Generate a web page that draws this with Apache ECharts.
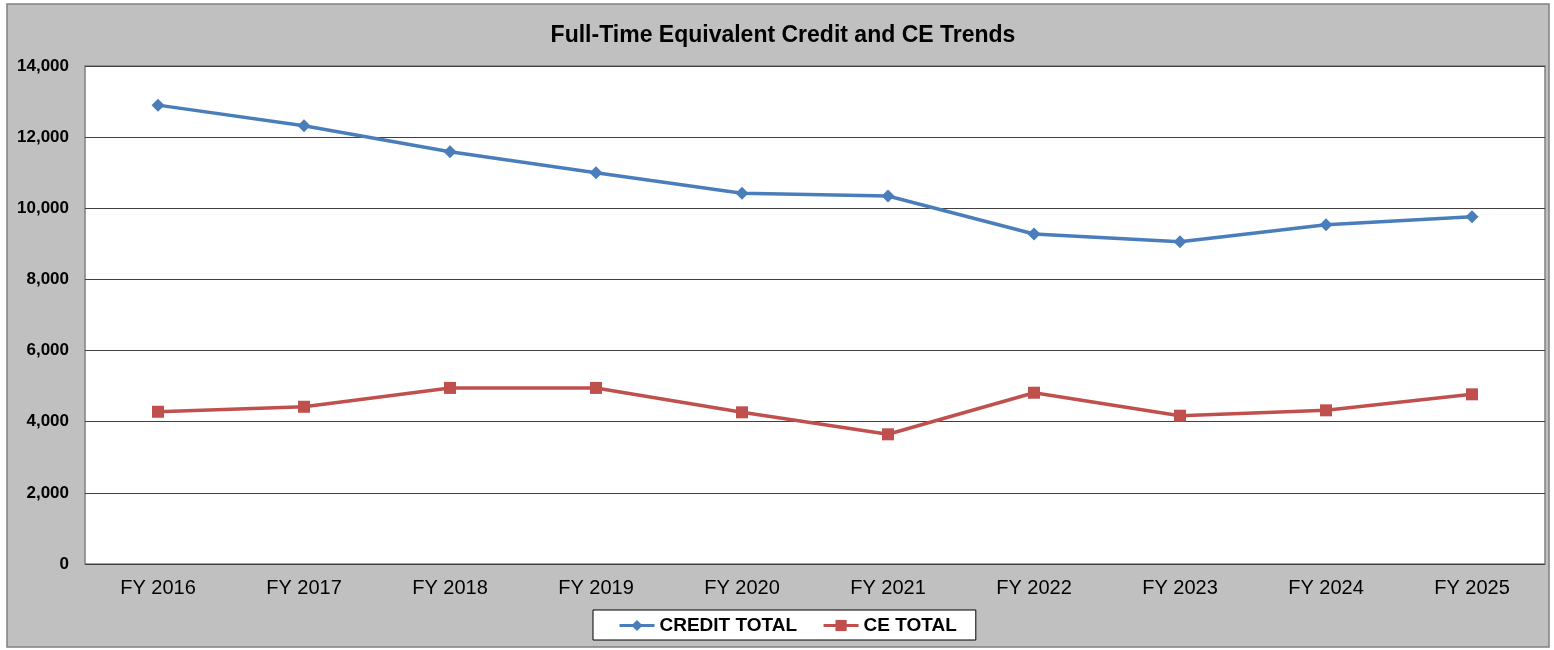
<!DOCTYPE html>
<html>
<head>
<meta charset="utf-8">
<script src="https://cdn.jsdelivr.net/npm/echarts@6/dist/echarts.min.js"></script>
<style>
  html, body { margin: 0; padding: 0; background: #fff; }
  #chart { width: 1554px; height: 650px; }
</style>
</head>
<body>
<div id="chart"></div>
<script>
// chart data
const years = ['FY 2016', 'FY 2017', 'FY 2018', 'FY 2019', 'FY 2020', 'FY 2021', 'FY 2022', 'FY 2023', 'FY 2024', 'FY 2025']
const creditTotal = [12900, 12320, 11590, 11000, 10420, 10345, 9276, 9060, 9538, 9763]
const ceTotal = [4280, 4420, 4950, 4950, 4264, 3646, 4815, 4169, 4320, 4770]

const font = '"Liberation Sans", Arial, sans-serif'

let chart = echarts.init(document.getElementById('chart'))
let option = {
    backgroundColor: '#ffffff',
    animation: false,
    graphic: [{
        type: 'rect',
        z: -10,
        shape: { x: 7, y: 4, width: 1542, height: 643 },
        style: { fill: '#c0c0c0', stroke: '#808080', lineWidth: 1.5 }
    }],
    title: {
        text: 'Full-Time Equivalent Credit and CE Trends',
        left: 778,
        textAlign: 'center',
        top: 19,
        textStyle: { fontFamily: font, fontSize: 23, fontWeight: 'bold', color: '#000' }
    },
    grid: {
        left: 85,
        right: 9,
        top: 66,
        bottom: 86,
        show: true,
        backgroundColor: '#ffffff',
        borderColor: '#808080',
        borderWidth: 1.5
    },
    legend: {
        data: ['CREDIT TOTAL', 'CE TOTAL'],
        left: 593,
        top: 610,
        backgroundColor: '#ffffff',
        borderColor: '#000',
        borderWidth: 1,
        padding: [6, 19, 5, 25],
        itemGap: 25,
        itemWidth: 35,
        itemHeight: 14,
        lineStyle: { width: 3 },
        textStyle: { fontFamily: font, fontSize: 19, fontWeight: 'bold', color: '#000' }
    },
    xAxis: {
        type: 'category',
        data: years,
        boundaryGap: true,
        axisLine: { show: false },
        axisTick: { show: false },
        axisLabel: { fontFamily: font, fontSize: 20, color: '#000', margin: 14 }
    },
    yAxis: {
        type: 'value',
        min: 0,
        max: 14000,
        interval: 2000,
        axisLine: { show: false },
        axisTick: { show: false },
        splitLine: { lineStyle: { color: '#404040', width: 1 } },
        axisLabel: {
            fontFamily: font, fontSize: 17, fontWeight: 'bold', color: '#000', margin: 16,
            formatter: v => v.toLocaleString('en-US')
        }
    },
    series: [{
        name: 'CREDIT TOTAL',
        type: 'line',
        data: creditTotal,
        symbol: 'diamond',
        symbolSize: 13,
        itemStyle: { color: '#4a7ebb' },
        lineStyle: { color: '#4a7ebb', width: 3.5 }
    }, {
        name: 'CE TOTAL',
        type: 'line',
        data: ceTotal,
        symbol: 'rect',
        symbolSize: 12,
        itemStyle: { color: '#c0504d' },
        lineStyle: { color: '#c0504d', width: 3.5 }
    }]
}
chart.setOption(option)
</script>
</body>
</html>
